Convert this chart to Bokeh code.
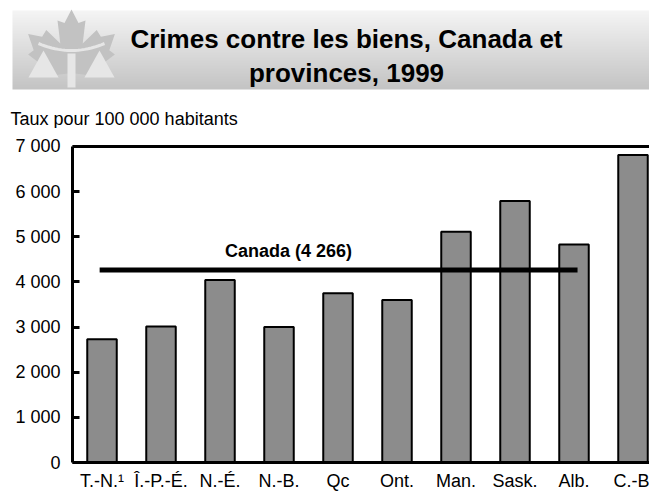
import numpy as np
from bokeh.plotting import figure
from bokeh.layouts import column
from bokeh.models import Range1d, FixedTicker, Span, Label
from bokeh.core.properties import value
from bokeh.embed import file_html
from bokeh.resources import INLINE

# ---------------- data ----------------
categories = ["T.-N.\u00b9", "\u00ce.-P.-\u00c9.", "N.-\u00c9.", "N.-B.", "Qc",
              "Ont.", "Man.", "Sask.", "Alb.", "C.-B"]
rates = [2730, 3010, 4040, 3000, 3750, 3600, 5110, 5790, 4830, 6810]
canada_rate = 4266
canada_label = "Canada (4 266)"
y_ticks = [0, 1000, 2000, 3000, 4000, 5000, 6000, 7000]
y_tick_labels = ["0", "1 000", "2 000", "3 000", "4 000", "5 000", "6 000", "7 000"]
title_lines = ["Crimes contre les biens, Canada et", "provinces, 1999"]
y_title = "Taux pour 100 000 habitants"

FONT = "Liberation Sans"
W = 649
H1 = 128          # banner figure height
H2 = 493 - H1     # chart figure height

# ---------------- banner figure ----------------
pb = figure(width=W, height=H1, x_range=Range1d(0, W), y_range=Range1d(0, H1),
            toolbar_location=None, output_backend="svg",
            min_border=0, x_axis_type=None, y_axis_type=None)
pb.frame_align = False
pb.grid.visible = False
pb.outline_line_color = None
pb.background_fill_color = "white"


def cv(px, py):
    return px, H1 - py


# gradient banner (page y 10..89, x 12..right edge)
N = 79
img = np.empty((N, 1), dtype=np.uint32)
view = img.view(dtype=np.uint8).reshape((N, 1, 4))
shade = np.linspace(0xc4, 0xf5, N).astype(np.uint8)
view[:, 0, 0] = shade
view[:, 0, 1] = shade
view[:, 0, 2] = shade
view[:, 0, 3] = 255
bx, by = cv(12, 89)
pb.image_rgba(image=[img], x=bx, y=by, dw=W - bx, dh=N)

# logo: maple leaf
right_half = [(0, 1.0), (0.1, 0.80), (0.2, 0.84), (0.16, 0.50), (0.36, 0.70),
              (0.42, 0.60), (0.62, 0.64), (0.54, 0.40), (0.62, 0.34), (0.34, 0.12),
              (0.38, 0.02), (0.05, 0.06), (0.05, -0.15)]
left_half = [(-u, v) for (u, v) in reversed(right_half)][:-1]
pts = right_half + left_half
lx, ly = [], []
for u, v in pts:
    X, Y = cv(71 + u * 70, 9 + (1 - v) * 68)
    lx.append(X)
    ly.append(Y)
pb.patch(lx, ly, fill_color="#c2c2c2", line_color=None)

light = "#e6e6e6"
for tri in ([(43, 50), (28, 77), (58, 77)], [(99, 50), (84, 77), (114, 77)]):
    tx = [cv(a, b)[0] for a, b in tri]
    ty = [cv(a, b)[1] for a, b in tri]
    pb.patch(tx, ty, fill_color=light, line_color=None)
px0, py0 = cv(67, 87)
px1, py1 = cv(75, 53)
pb.quad(left=px0, right=px1, bottom=py0, top=py1, fill_color=light, line_color=None)
arc_x, arc_y = [], []
for t in np.linspace(-1, 1, 21):
    X, Y = cv(71 + t * 33, 50 - 7 * t * t)
    arc_x.append(X)
    arc_y.append(Y)
pb.line(arc_x, arc_y, line_color=light, line_width=3)

# title
for i, line in enumerate(title_lines):
    tx, ty = cv(346, 38 + 34 * i)
    pb.text(x=[tx], y=[ty], text=[line], text_align="center",
            text_baseline="middle", text_font=value(FONT),
            text_font_size="26px", text_font_style="bold", text_color="black")

# y-axis title
tx, ty = cv(10, 118)
pb.text(x=[tx], y=[ty], text=[y_title], text_align="left",
        text_baseline="middle", text_font=value(FONT),
        text_font_size="18px", text_color="black")

# ---------------- chart figure ----------------
LEFT = 72
positions = list(range(len(categories)))
p = figure(width=W, height=H2,
           x_range=Range1d(-0.5, -0.5 + (W - LEFT) / 59.0),
           y_range=Range1d(0, 7044),
           toolbar_location=None, output_backend="svg",
           min_border_left=LEFT, min_border_right=0, min_border_top=16,
           min_border_bottom=31)
p.frame_align = False
p.grid.visible = False
p.outline_line_color = None
p.background_fill_color = "white"

p.vbar(x=positions, top=rates, width=0.5, fill_color="#8c8c8c",
       line_color="black", line_width=2)

# Canada average line
p.line(x=[positions[0] - 0.04, positions[8] + 0.06], y=[canada_rate, canada_rate],
       line_color="black", line_width=5)
p.add_layout(Label(x=3.16, y=canada_rate, y_offset=9, text=canada_label,
                   text_align="center", text_baseline="bottom",
                   text_font=FONT, text_font_size="18px",
                   text_font_style="bold", text_color="black"))

# top border line
p.add_layout(Span(location=y_ticks[-1], dimension="width", line_color="black",
                  line_width=3))

# axes
xa = p.xaxis[0]
xa.ticker = FixedTicker(ticks=positions)
xa.major_label_overrides = {i: c for i, c in zip(positions, categories)}
xa.major_tick_in = 0
xa.major_tick_out = 0
xa.minor_tick_line_color = None
xa.axis_line_width = 3
xa.axis_line_color = "black"
xa.major_label_standoff = 8
xa.major_label_text_font = FONT
xa.major_label_text_font_size = "18px"
xa.major_label_text_color = "black"

ya = p.yaxis[0]
ya.ticker = FixedTicker(ticks=y_ticks)
ya.major_label_overrides = {t: l for t, l in zip(y_ticks, y_tick_labels)}
ya.bounds = (y_ticks[0], y_ticks[-1])
ya.major_tick_in = 7
ya.major_tick_out = 0
ya.major_tick_line_width = 3
ya.minor_tick_line_color = None
ya.axis_line_width = 3
ya.axis_line_color = "black"
ya.major_label_standoff = 12
ya.major_label_text_font = FONT
ya.major_label_text_font_size = "18px"
ya.major_label_text_color = "black"

layout = column(pb, p, spacing=0)
open("out.html", "w").write(file_html(layout, INLINE))
